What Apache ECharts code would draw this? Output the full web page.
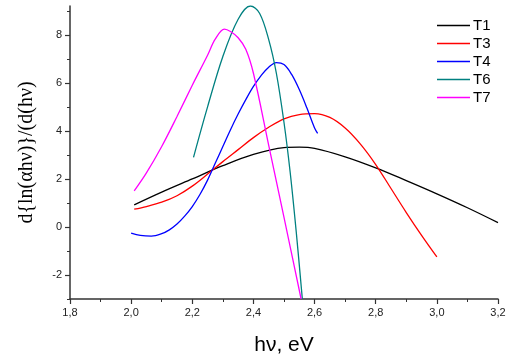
<!DOCTYPE html>
<html>
<head>
<meta charset="utf-8">
<script src="https://cdn.jsdelivr.net/npm/echarts@6/dist/echarts.min.js"></script>
<style>html,body{margin:0;padding:0;background:#fff;}#c{width:520px;height:361px;}</style>
</head>
<body>
<div id="c"></div>
<script>
var seriesNames = ['T1', 'T3', 'T4', 'T6', 'T7'];
var seriesColors = ['#000000', '#ff0000', '#0000ff', '#008080', '#ff00ff'];

var t1X = [2.01, 2.1, 2.2, 2.3, 2.4, 2.5, 2.55, 2.6, 2.7, 2.8, 2.9, 3.0, 3.1, 3.2];
var t1Y = [0.92, 1.45, 2.0, 2.55, 3.02, 3.3, 3.32, 3.27, 2.92, 2.46, 1.93, 1.38, 0.8, 0.18];

var t3X = [2.01, 2.05, 2.1, 2.15, 2.2, 2.25, 2.3, 2.35, 2.4, 2.45, 2.5, 2.55, 2.6, 2.65, 2.7, 2.75, 2.8, 2.85, 2.9, 2.95, 3.0];
var t3Y = [0.74, 0.85, 1.03, 1.3, 1.7, 2.2, 2.72, 3.22, 3.72, 4.15, 4.5, 4.68, 4.72, 4.56, 4.12, 3.45, 2.6, 1.6, 0.6, -0.35, -1.25];

var t4X = [2.0, 2.03, 2.066, 2.1, 2.125, 2.15, 2.175, 2.2, 2.225, 2.25, 2.275, 2.3, 2.325, 2.35, 2.375, 2.4, 2.425, 2.45, 2.475, 2.5, 2.525, 2.55, 2.575, 2.6, 2.61];
var t4Y = [-0.26, -0.35, -0.38, -0.28, -0.12, 0.12, 0.45, 0.85, 1.35, 1.95, 2.65, 3.35, 4.05, 4.7, 5.3, 5.85, 6.3, 6.65, 6.84, 6.76, 6.35, 5.72, 4.95, 4.12, 3.9];

var t6X = [2.204, 2.25, 2.3, 2.35, 2.39, 2.42, 2.45, 2.475, 2.5, 2.52, 2.54, 2.56];
var t6Y = [2.9, 5.0, 7.1, 8.65, 9.2, 8.9, 7.8, 6.4, 4.35, 2.3, -0.2, -3.0];

var t7X = [2.01, 2.05, 2.1, 2.15, 2.2, 2.25, 2.275, 2.305, 2.325, 2.35, 2.375, 2.4, 2.45, 2.5, 2.556];
var t7Y = [1.5, 2.25, 3.35, 4.6, 5.9, 7.15, 7.82, 8.24, 8.14, 7.88, 7.4, 6.4, 3.4, 0.4, -3.0];

var yMajor = [-2, 0, 2, 4, 6, 8];

function pairs(xs, ys) { return xs.map(function (x, i) { return [x, ys[i]]; }); }
var allX = [t1X, t3X, t4X, t6X, t7X];
var allY = [t1Y, t3Y, t4Y, t6Y, t7Y];

var chart = echarts.init(document.getElementById('c'), null, {renderer: 'canvas'});
var axisLineStyle = {color: '#333', width: 1.5};
chart.setOption({
  animation: false,
  backgroundColor: '#fff',
  grid: {left: 70, right: 22, top: 6, bottom: 62, containLabel: false},
  legend: {
    orient: 'vertical', left: 432, top: 13, itemGap: 3,
    icon: 'rect', itemWidth: 33, itemHeight: 1.5,
    textStyle: {fontFamily: 'Liberation Sans, Arial', fontSize: 15, color: '#000', padding: [0, 0, 0, -2]},
    data: seriesNames
  },
  xAxis: {
    type: 'value', min: 1.8, max: 3.2, interval: 0.2,
    name: 'hν, eV', nameLocation: 'middle', nameGap: 36,
    nameTextStyle: {fontFamily: 'Liberation Sans, Arial', fontSize: 21, color: '#000'},
    axisLine: {show: true, onZero: false, lineStyle: axisLineStyle},
    axisTick: {show: true, length: 5, lineStyle: {color: '#333', width: 1.2}},
    minorTick: {show: true, splitNumber: 2, length: 3, lineStyle: {color: '#333', width: 1}},
    splitLine: {show: false},
    axisLabel: {fontFamily: 'Liberation Sans, Arial', fontSize: 11, color: '#222', margin: 8,
      formatter: function (v) { return v.toFixed(1).replace('.', ','); }}
  },
  yAxis: [{
    type: 'value', min: -3, max: 9.2,
    name: 'd{ln(αhν)}/(d(hν)', nameLocation: 'middle', nameGap: 33,
    nameTextStyle: {fontFamily: 'Liberation Serif, Times New Roman', fontSize: 20, color: '#000'},
    axisLine: {show: true, onZero: false, lineStyle: axisLineStyle},
    axisTick: {show: true, length: 5, customValues: yMajor, lineStyle: {color: '#333', width: 1.2}},
    splitLine: {show: false},
    axisLabel: {fontFamily: 'Liberation Sans, Arial', fontSize: 11, color: '#222', margin: 8,
      customValues: yMajor}
  }, {
    type: 'value', min: -3, max: 9.2, position: 'left', offset: 0,
    axisLine: {show: false},
    axisTick: {show: true, length: 3, customValues: [-3, -1, 1, 3, 5, 7, 9], lineStyle: {color: '#333', width: 1}},
    axisLabel: {show: false},
    splitLine: {show: false}
  }],
  series: seriesNames.map(function (n, i) {
    return {
      name: n, type: 'line', smooth: 0.35, symbol: 'none', yAxisIndex: 0,
      lineStyle: {color: seriesColors[i], width: 1.3},
      itemStyle: {color: seriesColors[i]},
      data: pairs(allX[i], allY[i])
    };
  })
});
</script>
</body>
</html>
